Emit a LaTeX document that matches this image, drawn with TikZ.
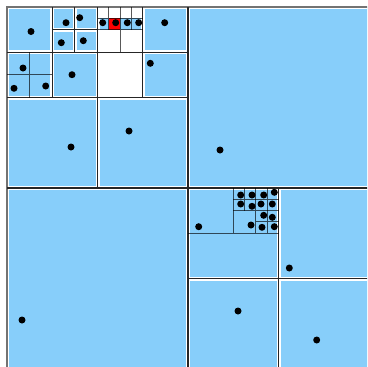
\documentclass[tikz,border=0pt]{standalone}
\usepackage{tikz}
\definecolor{cellblue}{RGB}{135,206,250}
\tikzset{
  halo/.style={white,line width=4pt},
  split/.style={black!85,line width=1.2pt},
  subsplit/.style={black,opacity=.65,line width=.9pt},
  frame/.style={black!55,line width=1.2pt},
  pt/.style={black}
}
\begin{document}
\begin{tikzpicture}[x=1pt,y=-1pt]
\path[use as bounding box] (0,0) rectangle (367,367);
\clip (0,0) rectangle (367,367);
\fill[cellblue] (7.00000000,7.00000000) rectangle (369.00000000,369.00000000);
\fill[white] (97.50000000,7.00000000) rectangle (142.75000000,18.31250000);
\fill[white] (97.50000000,29.62500000) rectangle (142.75000000,97.50000000);
\fill[red] (108.81250000,18.31250000) rectangle (120.12500000,29.62500000);

\draw[halo] (7.00000000,369.00000000)--(7.00000000,7.00000000)--(369.00000000,7.00000000);
\draw[halo] (188.00000000,7.00000000)--(188.00000000,369.00000000) (7.00000000,188.00000000)--(369.00000000,188.00000000);
\draw[halo] (97.50000000,7.00000000)--(97.50000000,188.00000000) (7.00000000,97.50000000)--(188.00000000,97.50000000);
\draw[halo] (52.25000000,7.00000000)--(52.25000000,97.50000000) (7.00000000,52.25000000)--(97.50000000,52.25000000);
\draw[halo] (74.87500000,7.00000000)--(74.87500000,52.25000000) (52.25000000,29.62500000)--(97.50000000,29.62500000);
\draw[halo] (142.75000000,7.00000000)--(142.75000000,97.50000000) (97.50000000,52.25000000)--(188.00000000,52.25000000);
\draw[halo] (278.50000000,188.00000000)--(278.50000000,369.00000000) (188.00000000,278.50000000)--(369.00000000,278.50000000);

\draw[frame] (7.00000000,369.00000000)--(7.00000000,7.00000000)--(369.00000000,7.00000000);
\draw[split] (188.00000000,7.00000000)--(188.00000000,369.00000000) (7.00000000,188.00000000)--(369.00000000,188.00000000);
\draw[split] (97.50000000,7.00000000)--(97.50000000,188.00000000) (7.00000000,97.50000000)--(188.00000000,97.50000000);
\draw[split] (52.25000000,7.00000000)--(52.25000000,97.50000000) (7.00000000,52.25000000)--(97.50000000,52.25000000);
\draw[split] (74.87500000,7.00000000)--(74.87500000,52.25000000) (52.25000000,29.62500000)--(97.50000000,29.62500000);
\draw[split] (142.75000000,7.00000000)--(142.75000000,97.50000000) (97.50000000,52.25000000)--(188.00000000,52.25000000);
\draw[split] (278.50000000,188.00000000)--(278.50000000,369.00000000) (188.00000000,278.50000000)--(369.00000000,278.50000000);

\draw[subsplit] (29.62500000,52.25000000)--(29.62500000,97.50000000) (7.00000000,74.87500000)--(52.25000000,74.87500000);
\draw[subsplit] (120.12500000,7.00000000)--(120.12500000,52.25000000) (97.50000000,29.62500000)--(142.75000000,29.62500000);
\draw[subsplit] (108.81250000,7.00000000)--(108.81250000,29.62500000) (97.50000000,18.31250000)--(120.12500000,18.31250000);
\draw[subsplit] (131.43750000,7.00000000)--(131.43750000,29.62500000) (120.12500000,18.31250000)--(142.75000000,18.31250000);
\draw[subsplit] (188.00000000,233.25000000)--(278.50000000,233.25000000) (233.25000000,188.00000000)--(233.25000000,233.25000000);
\draw[subsplit] (255.87500000,188.00000000)--(255.87500000,233.25000000) (233.25000000,210.62500000)--(278.50000000,210.62500000);
\draw[subsplit] (244.56250000,188.00000000)--(244.56250000,210.62500000) (233.25000000,199.31250000)--(255.87500000,199.31250000);
\draw[subsplit] (267.18750000,188.00000000)--(267.18750000,210.62500000) (255.87500000,199.31250000)--(278.50000000,199.31250000);
\draw[subsplit] (267.18750000,210.62500000)--(267.18750000,233.25000000) (255.87500000,221.93750000)--(278.50000000,221.93750000);

\fill[pt] (31.00000000,31.50000000) circle[radius=3.5];
\fill[pt] (66.00000000,22.70000000) circle[radius=3.5];
\fill[pt] (79.70000000,17.70000000) circle[radius=3.5];
\fill[pt] (61.30000000,42.70000000) circle[radius=3.5];
\fill[pt] (83.30000000,40.70000000) circle[radius=3.5];
\fill[pt] (102.70000000,22.70000000) circle[radius=3.5];
\fill[pt] (115.70000000,22.70000000) circle[radius=3.5];
\fill[pt] (127.30000000,22.70000000) circle[radius=3.5];
\fill[pt] (138.70000000,22.70000000) circle[radius=3.5];
\fill[pt] (164.70000000,22.70000000) circle[radius=3.5];
\fill[pt] (23.00000000,68.00000000) circle[radius=3.5];
\fill[pt] (14.00000000,88.30000000) circle[radius=3.5];
\fill[pt] (45.70000000,86.00000000) circle[radius=3.5];
\fill[pt] (72.00000000,74.70000000) circle[radius=3.5];
\fill[pt] (150.30000000,63.30000000) circle[radius=3.5];
\fill[pt] (71.00000000,147.00000000) circle[radius=3.5];
\fill[pt] (129.00000000,131.00000000) circle[radius=3.5];
\fill[pt] (220.00000000,150.00000000) circle[radius=3.5];
\fill[pt] (22.00000000,320.00000000) circle[radius=3.5];
\fill[pt] (198.70000000,226.70000000) circle[radius=3.5];
\fill[pt] (289.30000000,268.00000000) circle[radius=3.5];
\fill[pt] (238.00000000,311.00000000) circle[radius=3.5];
\fill[pt] (316.70000000,340.00000000) circle[radius=3.5];
\fill[pt] (240.70000000,195.00000000) circle[radius=3.5];
\fill[pt] (252.00000000,195.00000000) circle[radius=3.5];
\fill[pt] (263.70000000,195.00000000) circle[radius=3.5];
\fill[pt] (274.30000000,192.30000000) circle[radius=3.5];
\fill[pt] (240.70000000,204.00000000) circle[radius=3.5];
\fill[pt] (252.00000000,206.30000000) circle[radius=3.5];
\fill[pt] (261.00000000,204.00000000) circle[radius=3.5];
\fill[pt] (272.30000000,204.00000000) circle[radius=3.5];
\fill[pt] (263.70000000,215.30000000) circle[radius=3.5];
\fill[pt] (272.30000000,217.30000000) circle[radius=3.5];
\fill[pt] (251.00000000,225.00000000) circle[radius=3.5];
\fill[pt] (262.00000000,227.30000000) circle[radius=3.5];
\fill[pt] (274.30000000,226.70000000) circle[radius=3.5];
\end{tikzpicture}
\end{document}
